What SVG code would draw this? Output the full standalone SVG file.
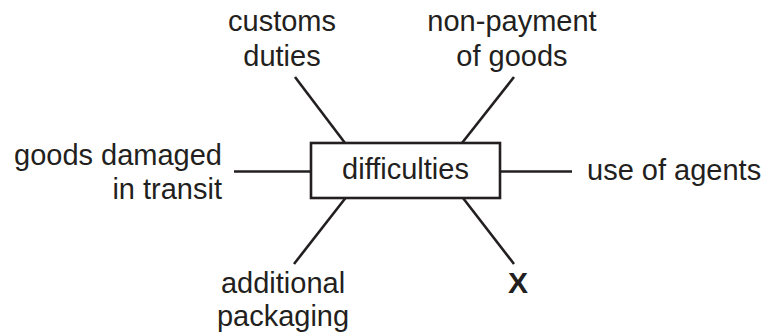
<svg xmlns="http://www.w3.org/2000/svg" width="765" height="333" viewBox="0 0 765 333">
<style>
text{font-family:"Liberation Sans",Arial,sans-serif;font-size:29px;fill:#231f20}
.c{text-anchor:middle}
.r{text-anchor:end}
.b{font-weight:bold;font-size:30px}
.ln{stroke:#231f20;stroke-width:2.6;fill:none}
.box{stroke:#231f20;stroke-width:2.6;fill:#fff}
</style>
<rect width="765" height="333" fill="#fff"/>
<g id="connectors">
<line class="ln" x1="234" y1="171.5" x2="311" y2="171.5"/>
<line class="ln" x1="500" y1="171.5" x2="572" y2="171.5"/>
<line class="ln" x1="295" y1="77" x2="345" y2="143"/>
<line class="ln" x1="514" y1="77" x2="462" y2="143"/>
<line class="ln" x1="345.5" y1="198" x2="294" y2="264"/>
<line class="ln" x1="463" y1="198" x2="514" y2="264"/>
</g>
<g id="difficulties">
<rect class="box" x="311" y="143" width="189" height="55"/>
<text class="c" x="405.5" y="179">difficulties</text>
</g>
<g id="customs">
<text class="c" x="282" y="31">customs</text>
<text class="c" x="282" y="66">duties</text>
</g>
<g id="nonpayment">
<text class="c" x="512" y="31">non-payment</text>
<text class="c" x="512" y="66">of goods</text>
</g>
<g id="goodsdamaged">
<text class="r" x="222" y="165">goods damaged</text>
<text class="r" x="222" y="199">in transit</text>
</g>
<g id="agents">
<text x="587" y="179.5">use of agents</text>
</g>
<g id="packaging">
<text class="c" x="283" y="292.5">additional</text>
<text class="c" x="283" y="325.5">packaging</text>
</g>
<g id="x">
<text class="c b" x="518" y="293">X</text>
</g>
</svg>
